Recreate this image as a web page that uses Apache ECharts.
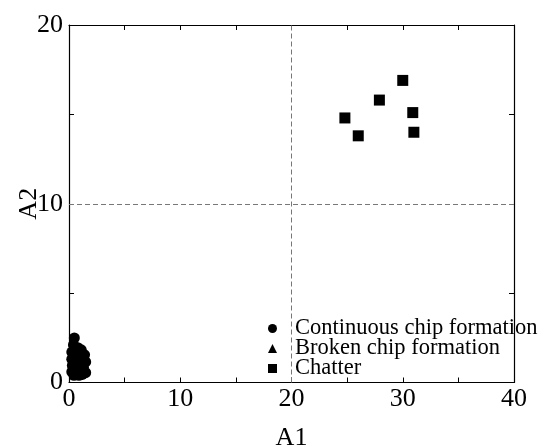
<!DOCTYPE html>
<html>
<head>
<meta charset="utf-8">
<script src="https://cdn.jsdelivr.net/npm/echarts@6/dist/echarts.min.js"></script>
<style>html,body{margin:0;padding:0;background:#fff;}#c{width:548px;height:447px;}</style>
</head>
<body>
<div id="c"></div>
<script>
const seriesNames = ['Continuous chip formation', 'Broken chip formation', 'Chatter'];
const continuousA1 = [0.48, 0.40, 0.80, 1.10, 1.40, 0.25, 0.60, 0.25, 0.70, 1.10, 1.50, 0.30, 0.80, 1.30, 0.25, 0.60, 1.00, 1.50, 0.45, 0.90, 1.20];
const continuousA2 = [2.49, 2.10, 1.95, 1.83, 1.55, 1.70, 1.60, 1.30, 1.25, 1.30, 1.15, 0.95, 0.90, 0.85, 0.60, 0.55, 0.60, 0.55, 0.40, 0.40, 0.45];
const brokenA1 = [];
const brokenA2 = [];
const chatterA1 = [30.0, 27.9, 30.9, 24.8, 26.0, 31.0];
const chatterA2 = [16.9, 15.8, 15.1, 14.8, 13.8, 14.0];
const xTickLabels = [0, 10, 20, 30, 40];
const yTickLabels = [0, 10, 20];
const refLineA1 = 20;
const refLineA2 = 10;

const pair = (xs, ys) => xs.map((x, i) => [x, ys[i]]);
const FONT = '"Liberation Serif", "Times New Roman", "DejaVu Serif", serif';
const black = '#000';

const baseAxis = {
  type: 'value', interval: 5, min: 0,
  axisLine: { show: true, onZero: false, lineStyle: { color: black, width: 1.2 } },
  axisTick: { show: true, inside: true, length: 5, lineStyle: { color: black, width: 1 } },
  splitLine: { show: false }
};

const chart = echarts.init(document.getElementById('c'), null, { renderer: 'canvas' });
chart.setOption({
  animation: false,
  backgroundColor: '#fff',
  grid: { left: 69, right: 34, top: 25, bottom: 64.5, containLabel: false, outerBoundsMode: 'none' },
  legend: {
    orient: 'vertical', left: 268, top: 317, padding: 0,
    itemWidth: 9, itemHeight: 9, itemGap: -3,
    data: [
      { name: seriesNames[0], icon: 'circle' },
      { name: seriesNames[1], icon: 'triangle' },
      { name: seriesNames[2], icon: 'rect' }
    ],
    textStyle: { fontFamily: FONT, fontSize: 22.5, lineHeight: 20, color: black, padding: [0, 0, 0, 13] },
    selectedMode: false
  },
  xAxis: [
    Object.assign({}, baseAxis, {
      max: 40, position: 'bottom',
      axisLabel: { margin: 4, fontFamily: FONT, fontSize: 26, color: black,
        formatter: v => xTickLabels.includes(v) ? String(v) : '' },
      name: 'A1', nameLocation: 'middle', nameGap: 43,
      nameTextStyle: { fontFamily: FONT, fontSize: 26, color: black }
    }),
    Object.assign({}, baseAxis, { max: 40, position: 'top', axisLabel: { show: false } })
  ],
  yAxis: [
    Object.assign({}, baseAxis, {
      max: 20, position: 'left',
      axisLabel: { margin: 6, fontFamily: FONT, fontSize: 26, color: black,
        formatter: v => yTickLabels.includes(v) ? String(v) : '' },
      name: 'A2', nameLocation: 'middle', nameGap: 27, nameMoveOverlap: false,
      nameTextStyle: { fontFamily: FONT, fontSize: 26, color: black }
    }),
    Object.assign({}, baseAxis, { max: 20, position: 'right', axisLabel: { show: false } })
  ],
  series: [
    {
      name: seriesNames[2], type: 'scatter', symbol: 'rect', symbolSize: 11,
      itemStyle: { color: black, opacity: 1 },
      data: pair(chatterA1, chatterA2),
      markLine: {
        silent: true, symbol: 'none', animation: false,
        label: { show: false },
        lineStyle: { color: '#777', type: [5, 3], width: 1 },
        data: [{ xAxis: refLineA1 }, { yAxis: refLineA2 }]
      }
    },
    {
      name: seriesNames[0], type: 'scatter', symbol: 'circle', symbolSize: 11,
      itemStyle: { color: black, opacity: 1 },
      data: pair(continuousA1, continuousA2)
    },
    {
      name: seriesNames[1], type: 'scatter', symbol: 'triangle', symbolSize: 10,
      itemStyle: { color: black, opacity: 1 },
      data: pair(brokenA1, brokenA2)
    }
  ]
});
</script>
</body>
</html>
